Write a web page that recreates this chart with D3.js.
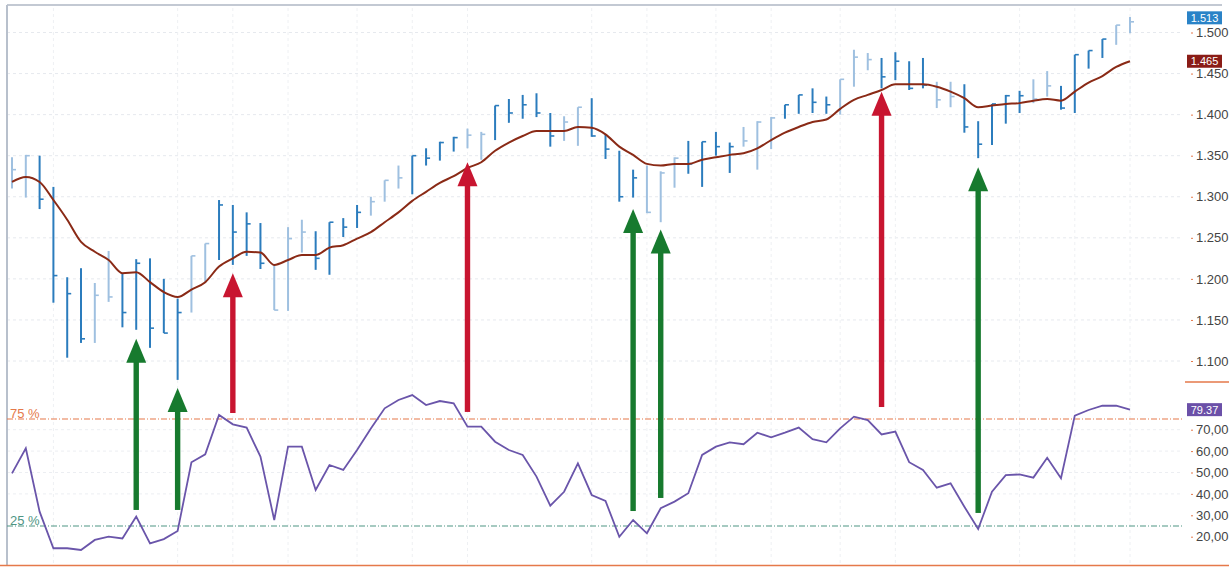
<!DOCTYPE html>
<html><head><meta charset="utf-8">
<script src="https://cdn.jsdelivr.net/npm/d3@7"></script>
<style>html,body{margin:0;padding:0;background:#fff;}svg{display:block;font-family:"Liberation Sans",Arial,sans-serif;}</style>
</head><body>
<svg id="c" width="1229" height="567"></svg>
<script>
// ---- DATA ----
const highs = [1.348,1.351,1.350,1.312,1.202,1.213,1.195,1.234,1.207,1.224,1.225,1.200,1.176,1.228,1.243,1.296,1.290,1.281,1.268,1.217,
1.263,1.272,1.258,1.269,1.274,1.290,1.300,1.320,1.338,1.350,1.359,1.367,1.373,1.383,1.379,1.411,1.419,1.424,1.426,1.402,
1.398,1.409,1.420,1.376,1.356,1.333,1.338,1.331,1.348,1.368,1.367,1.379,1.366,1.385,1.392,1.397,1.412,1.424,1.432,1.422,
1.443,1.479,1.475,1.469,1.476,1.465,1.469,1.440,1.440,1.437,1.392,1.413,1.424,1.429,1.443,1.453,1.435,1.473,1.478,1.492,
1.509,1.519];
const lows = [1.310,1.299,1.285,1.171,1.104,1.122,1.122,1.172,1.141,1.138,1.116,1.134,1.077,1.159,1.195,1.223,1.217,1.228,1.212,1.162,
1.161,1.232,1.211,1.205,1.251,1.262,1.277,1.294,1.310,1.303,1.338,1.344,1.355,1.359,1.345,1.369,1.390,1.395,1.397,1.361,
1.368,1.362,1.373,1.346,1.294,1.299,1.280,1.269,1.311,1.328,1.312,1.350,1.329,1.361,1.333,1.358,1.395,1.401,1.402,1.401,
1.400,1.434,1.454,1.432,1.442,1.430,1.432,1.408,1.409,1.378,1.347,1.363,1.389,1.402,1.414,1.422,1.406,1.402,1.456,1.469,
1.485,1.499];
const closes = [1.333,1.350,1.297,1.204,1.182,1.127,1.180,1.178,1.159,1.219,1.140,1.134,1.159,1.228,1.243,1.290,1.257,1.267,1.219,1.162,
1.249,1.257,1.225,1.269,1.263,1.281,1.294,1.320,1.323,1.350,1.347,1.366,1.372,1.375,1.376,1.411,1.402,1.412,1.402,1.374,
1.391,1.409,1.374,1.358,1.300,1.323,1.281,1.329,1.347,1.340,1.367,1.361,1.361,1.368,1.391,1.396,1.412,1.424,1.415,1.412,
1.443,1.470,1.467,1.446,1.465,1.432,1.436,1.418,1.422,1.385,1.364,1.413,1.423,1.423,1.419,1.435,1.408,1.473,1.478,1.492,
1.509,1.513];
// bar tone: "d" dark blue, "l" light blue
const barTones = ["l","l","d","d","d","d","l","l","d","d","d","d","d","l","l","d","d","d","d","l",
"l","l","d","d","d","d","l","l","l","d","d","d","d","l","l","d","d","d","d","d",
"l","l","d","d","d","d","l","l","l","d","d","d","d","l","l","l","d","d","d","d",
"l","l","l","d","d","d","d","l","l","d","d","d","d","d","l","l","d","d","d","d",
"l","l"];
const movingAverage = [1.318,1.324,1.318,1.296,1.272,1.245,1.233,1.223,1.207,1.208,1.196,1.184,1.178,1.187,1.196,1.215,1.225,1.233,1.232,1.217,
1.223,1.229,1.229,1.238,1.241,1.249,1.257,1.269,1.281,1.295,1.306,1.317,1.325,1.335,1.342,1.356,1.366,1.374,1.380,1.380,
1.380,1.385,1.384,1.376,1.361,1.351,1.340,1.338,1.340,1.340,1.345,1.348,1.351,1.353,1.359,1.369,1.378,1.385,1.391,1.394,
1.407,1.418,1.424,1.430,1.437,1.437,1.437,1.434,1.428,1.420,1.409,1.411,1.413,1.414,1.417,1.419,1.417,1.428,1.439,1.447,
1.458,1.465];
const indicator = [49.6,61.3,31.7,14.6,14.6,13.8,18.5,20.0,19.2,29.4,16.9,18.9,22.7,54.8,58.5,76.9,72.5,71.0,57.4,27.8,
62.1,62.1,41.8,53.5,51.2,60.5,70.6,80.0,83.9,86.2,81.5,83.4,82.3,71.4,71.4,64.4,60.5,58.2,48.1,34.5,
41.0,54.3,39.5,36.7,20.0,27.8,21.6,33.3,36.4,40.3,58.2,62.1,64.1,63.2,68.6,66.4,68.6,71.0,65.6,64.1,
70.6,76.1,74.5,67.8,69.1,54.8,51.2,42.9,44.9,34.0,23.6,41.0,48.8,49.1,47.6,56.9,47.3,76.6,79.2,81.2,
81.2,79.37];
const priceTicks = [1.10,1.15,1.20,1.25,1.30,1.35,1.40,1.45,1.50];
const indicatorTicks = [20,30,40,50,60,70];
const levelHigh = 75, levelLow = 25;
const gridBars = [3,12,16,20,25,29,33,42,46,51,55,60,64,73,77,81];
// arrows: bar index, price at tip, indicator value at base, kind
const arrowBars   = [9,12,16,33,45,47,63,70];
const arrowTips   = [1.127,1.067,1.207,1.342,1.285,1.260,1.428,1.336];
const arrowBases  = [32.5,32.5,77.8,78.3,32.0,38.1,80.6,31.1];
const arrowKinds  = ["buy","buy","sell","sell","buy","buy","sell","buy"];
const lastPrice = 1.513, lastMA = 1.465, lastInd = 79.37;

// ---- CHART ----
const svg = d3.select("#c");
const x = d3.scaleLinear().domain([0, highs.length - 1]).range([12, 1130]);
const yP = d3.scaleLinear().domain([1.10, 1.50]).range([361, 32.5]);
const yI = d3.scaleLinear().domain([25, 75]).range([526, 419]);
const plotL = 7, plotR = 1183;
const dark = "#2b7cbd", light = "#9fc0e0";
const orange = "#e5794a", teal = "#4f9584";

// gridlines
const g = svg.append("g");
g.selectAll("line.hp").data(priceTicks).join("line")
  .attr("x1", plotL).attr("x2", plotR).attr("y1", d => yP(d)).attr("y2", d => yP(d))
  .attr("stroke", "#e6e9ee").attr("stroke-dasharray", "3,3");
g.selectAll("line.hi").data(indicatorTicks.filter(d => d >= 40)).join("line")
  .attr("x1", plotL).attr("x2", plotR).attr("y1", d => yI(d)).attr("y2", d => yI(d))
  .attr("stroke", "#eceef2").attr("stroke-dasharray", "3,3");
g.selectAll("line.v").data(gridBars).join("line")
  .attr("x1", d => x(d)).attr("x2", d => x(d)).attr("y1", 8).attr("y2", 563)
  .attr("stroke", "#eef0f3").attr("stroke-dasharray", "3,3");

// borders
svg.append("line").attr("x1", plotL).attr("x2", 1222).attr("y1", 5).attr("y2", 5).attr("stroke", "#c3c9d3").attr("stroke-width", 2);
svg.append("line").attr("x1", plotL).attr("x2", plotL).attr("y1", 5).attr("y2", 565).attr("stroke", "#b8c0cc").attr("stroke-width", 2);
svg.append("line").attr("x1", 0).attr("x2", 1229).attr("y1", 565.5).attr("y2", 565.5).attr("stroke", orange).attr("stroke-width", 1.5);
svg.append("line").attr("x1", 1185).attr("x2", 1229).attr("y1", 382).attr("y2", 382).attr("stroke", orange).attr("stroke-width", 1.5);

// level lines
[[levelHigh, orange, "75 %"], [levelLow, teal, "25 %"]].forEach(([v, c, t]) => {
  svg.append("line").attr("x1", plotL).attr("x2", plotR).attr("y1", yI(v)).attr("y2", yI(v))
    .attr("stroke", c).attr("stroke-width", 1.2).attr("stroke-dasharray", "6,2,1,2");
  svg.append("text").attr("x", 10).attr("y", yI(v) - 1).attr("fill", c).attr("font-size", 13).text(t);
});

// HLC bars
const bars = svg.append("g");
const idx = d3.range(highs.length);
bars.selectAll("line.hl").data(idx).join("line")
  .attr("x1", i => x(i)).attr("x2", i => x(i))
  .attr("y1", i => yP(highs[i])).attr("y2", i => yP(lows[i]))
  .attr("stroke", i => barTones[i] === "d" ? dark : light).attr("stroke-width", 2);
bars.selectAll("line.c").data(idx).join("line")
  .attr("x1", i => x(i)).attr("x2", i => x(i) + 4)
  .attr("y1", i => yP(closes[i])).attr("y2", i => yP(closes[i]))
  .attr("stroke", i => barTones[i] === "d" ? dark : light).attr("stroke-width", 1.6);

// moving average
svg.append("path").datum(movingAverage)
  .attr("d", d3.line().curve(d3.curveMonotoneX).x((d, i) => x(i)).y(d => yP(d)))
  .attr("fill", "none").attr("stroke", "#8a2a16").attr("stroke-width", 2);

// indicator line
svg.append("path").datum(indicator)
  .attr("d", d3.line().x((d, i) => x(i)).y(d => yI(d)))
  .attr("fill", "none").attr("stroke", "#6a55aa").attr("stroke-width", 1.8);

// arrows
const arrowColor = { buy: "#177a2e", sell: "#c81530" };
arrowBars.forEach((b, k) => {
  const cx = x(b), tip = yP(arrowTips[k]), base = yI(arrowBases[k]);
  const col = arrowColor[arrowKinds[k]];
  const hl = 24, hw = 10;
  svg.append("rect").attr("x", cx - 2.7).attr("width", 5.4)
    .attr("y", tip + hl - 1).attr("height", base - tip - hl + 1).attr("fill", col);
  svg.append("path").attr("d", `M${cx},${tip} L${cx + hw},${tip + hl} L${cx - hw},${tip + hl} Z`).attr("fill", col);
});

// right axes
const fmtP = d3.format(".3f");
const fmtI = v => d3.format(".2f")(v).replace(".", ",");
const axP = svg.append("g").attr("transform", "translate(1191,0)")
  .call(d3.axisRight(yP).tickValues(priceTicks).tickSize(2).tickPadding(3).tickFormat(fmtP));
const axI = svg.append("g").attr("transform", "translate(1191,0)")
  .call(d3.axisRight(yI).tickValues(indicatorTicks).tickSize(2).tickPadding(3).tickFormat(fmtI));
[axP, axI].forEach(a => {
  a.select(".domain").remove();
  a.selectAll(".tick line").attr("stroke", orange);
  a.selectAll(".tick text").attr("fill", "#444").attr("font-size", 13)
    .attr("font-family", "'Liberation Sans',Arial,sans-serif");
});

// value badges
function badge(y, txt, col) {
  svg.append("rect").attr("x", 1187).attr("y", y - 6.5).attr("width", 35).attr("height", 13).attr("fill", col);
  svg.append("text").attr("x", 1204.5).attr("y", y + 4).attr("text-anchor", "middle")
    .attr("fill", "#fff").attr("font-size", 11).text(txt);
}
badge(yP(lastPrice) - 4, fmtP(lastPrice), "#2a83c7");
badge(yP(lastMA), fmtP(lastMA), "#8a1c16");
badge(yI(lastInd), lastInd.toFixed(2), "#6b50a8");
</script>
</body></html>
